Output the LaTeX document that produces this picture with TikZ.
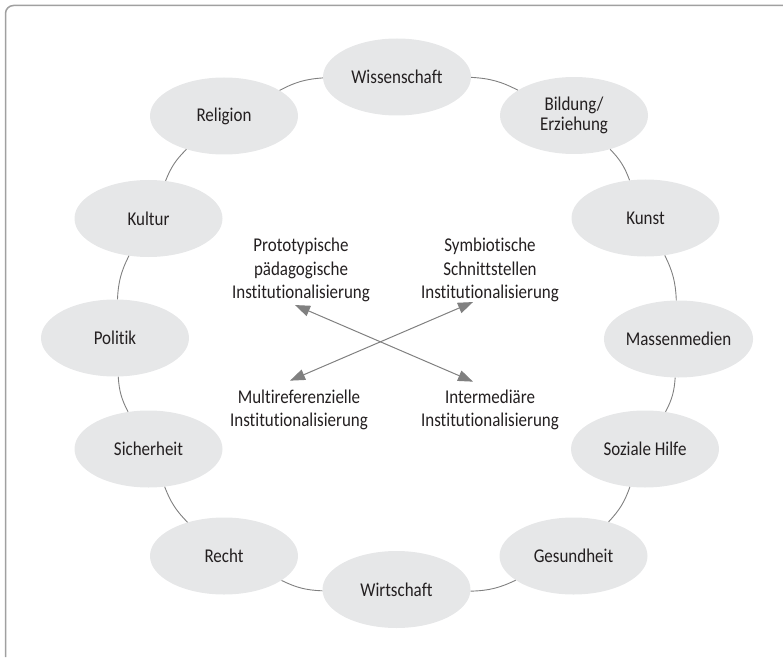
\documentclass[tikz,border=0pt]{standalone}
\usepackage{fontspec}
\setmainfont{Carlito}[FakeStretch=0.87, Ligatures=NoCommon, RawFeature={-clig;-calt}]
\usetikzlibrary{shapes.geometric,arrows.meta}
\definecolor{bubble}{HTML}{E6E7E8}
\definecolor{ink}{HTML}{231F20}
\definecolor{rim}{HTML}{A0A0A0}
\definecolor{wire}{HTML}{808080}
\tikzset{
  field/.style={ellipse, fill=bubble, minimum width=148pt, minimum height=77pt, inner sep=0pt, align=center, text=ink},
  kind/.style={align=center, text=ink, inner sep=1pt},
  ring/.style={draw=wire, line width=0.9pt},
  cross/.style={draw=wire, line width=1pt, {Triangle[length=15pt,width=11pt]}-{Triangle[length=15pt,width=11pt]}}
}
\begin{document}
\begin{tikzpicture}[x=1pt, y=1pt, font=\fontsize{19.5pt}{23.4pt}\selectfont]
\useasboundingbox (0,0) rectangle (783,657);
\draw[draw=rim, line width=1.5pt, rounded corners=8pt] (5.5,0) |- (783,651.5);
\node[field] (wiss) at (397,580) {Wissenschaft};
\node[field] (bild) at (574,541.5) {Bildung/\\[-3pt]Erziehung};
\node[field] (kunst) at (645.5,439) {Kunst};
\node[field] (massen) at (678.5,318) {Massenmedien};
\node[field] (sozial) at (645,208) {Soziale Hilfe};
\node[field] (gesund) at (573.5,101) {Gesundheit};
\node[field] (wirt) at (396.5,67.5) {Wirtschaft};
\node[field] (recht) at (224,101) {Recht};
\node[field] (sicher) at (148.5,208) {Sicherheit};
\node[field] (politik) at (115,319) {Politik};
\node[field] (kultur) at (148.5,438.5) {Kultur};
\node[field] (religion) at (224,541) {Religion};
\draw[ring] (wiss) to[bend left=12] (bild);
\draw[ring] (bild) to[bend left=12] (kunst);
\draw[ring] (kunst) to[bend left=12] (massen);
\draw[ring] (massen) to[bend left=12] (sozial);
\draw[ring] (sozial) to[bend left=12] (gesund);
\draw[ring] (gesund) to[bend left=12] (wirt);
\draw[ring] (wirt) to[bend left=12] (recht);
\draw[ring] (recht) to[bend left=12] (sicher);
\draw[ring] (sicher) to[bend left=12] (politik);
\draw[ring] (politik) to[bend left=12] (kultur);
\draw[ring] (kultur) to[bend left=12] (religion);
\draw[ring] (religion) to[bend left=12] (wiss);
\node[kind] (proto) at (301,387) {Prototypische\\pädagogische\\Institutionalisierung};
\node[kind] (symb) at (490,387) {Symbiotische\\Schnittstellen\\Institutionalisierung};
\node[kind] (multi) at (299,247) {Multireferenzielle\\Institutionalisierung};
\node[kind] (inter) at (490,247) {Intermediäre\\Institutionalisierung};
\draw[cross] ([xshift=-6pt,yshift=-2pt]proto.south) -- ([xshift=-17pt,yshift=7pt]inter.north);
\draw[cross] ([xshift=-17pt,yshift=1pt]symb.south) -- ([xshift=-9pt,yshift=8pt]multi.north);
\end{tikzpicture}
\end{document}
